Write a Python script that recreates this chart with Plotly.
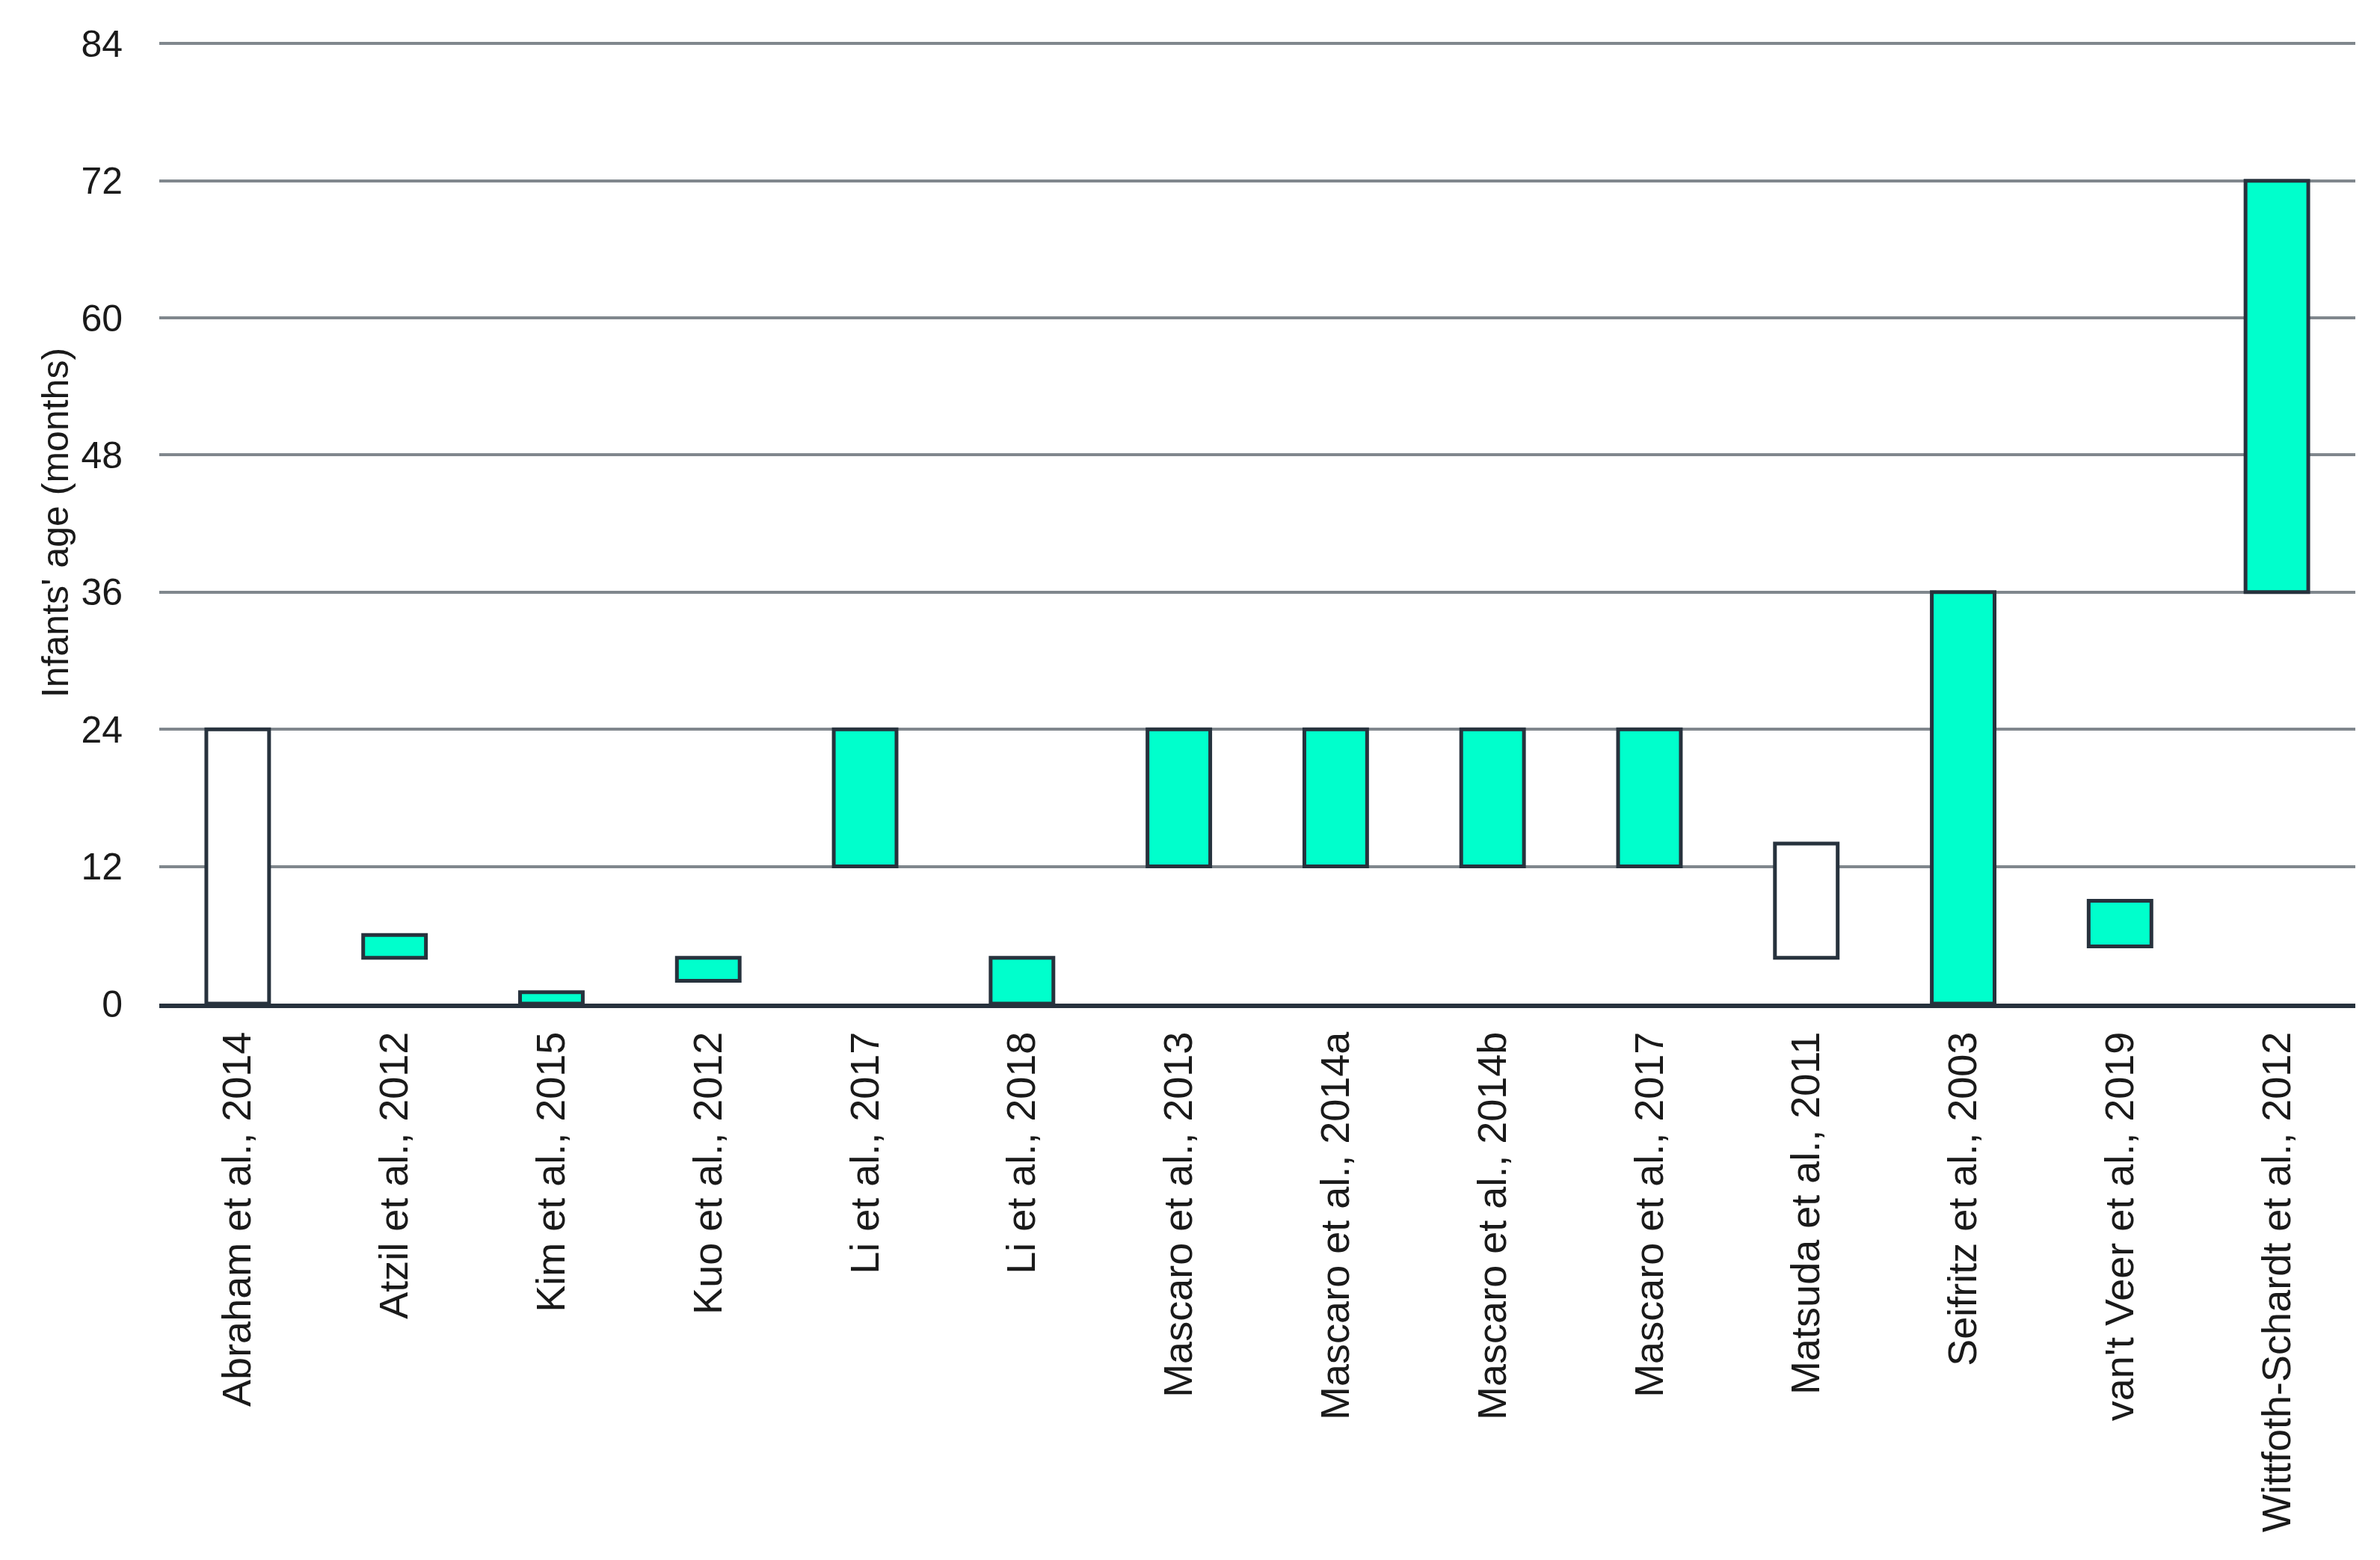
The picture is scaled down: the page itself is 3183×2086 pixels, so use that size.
import plotly.graph_objects as go

studies = ["Abraham et al., 2014", "Atzil et al., 2012", "Kim et al., 2015", "Kuo et al., 2012",
           "Li et al., 2017", "Li et al., 2018", "Mascaro et al., 2013", "Mascaro et al., 2014a",
           "Mascaro et al., 2014b", "Mascaro et al., 2017", "Matsuda et al., 2011", "Seifritz et al., 2003",
           "van't Veer et al., 2019", "Wittfoth-Schardt et al., 2012"]
age_start = [0, 4, 0, 2, 12, 0, 12, 12, 12, 12, 4, 0, 5, 36]
age_end = [24, 6, 1, 4, 24, 4, 24, 24, 24, 24, 14, 36, 9, 72]
filled = [False, True, True, True, True, True, True, True, True, True, False, True, True, True]
y_ticks = [0, 12, 24, 36, 48, 60, 72, 84]

colors = ["#00FFCC" if f else "#FFFFFF" for f in filled]
spans = [e - s for s, e in zip(age_start, age_end)]

fig = go.Figure()
fig.add_trace(go.Bar(
    x=studies, y=spans, base=age_start,
    marker=dict(color=colors, line=dict(color="#27323d", width=5)),
    width=0.4, showlegend=False,
))

fig.update_layout(
    width=3183, height=2086,
    paper_bgcolor="white", plot_bgcolor="white",
    margin=dict(l=205, r=41, t=48, b=752),
    font=dict(family="Liberation Sans, Arial, sans-serif", color="#1a1a1a"),
    bargap=0.6,
)
fig.update_xaxes(
    tickangle=-90, tickfont=dict(size=54), showgrid=False,
    showline=True, linecolor="#27323d", linewidth=6, ticks="", ticklen=0,
    ticklabelstandoff=10,
)
fig.update_yaxes(
    range=[0, 84.15], tickvals=y_ticks, ticktext=[str(v) for v in y_ticks],
    tickfont=dict(size=50), showgrid=True, gridcolor="#80878d", gridwidth=4,
    zeroline=False, showline=False, ticks="", ticklabelstandoff=48,
    title=dict(text="Infants' age (months)", font=dict(size=50), standoff=0),
)

fig.write_html("out.html")
